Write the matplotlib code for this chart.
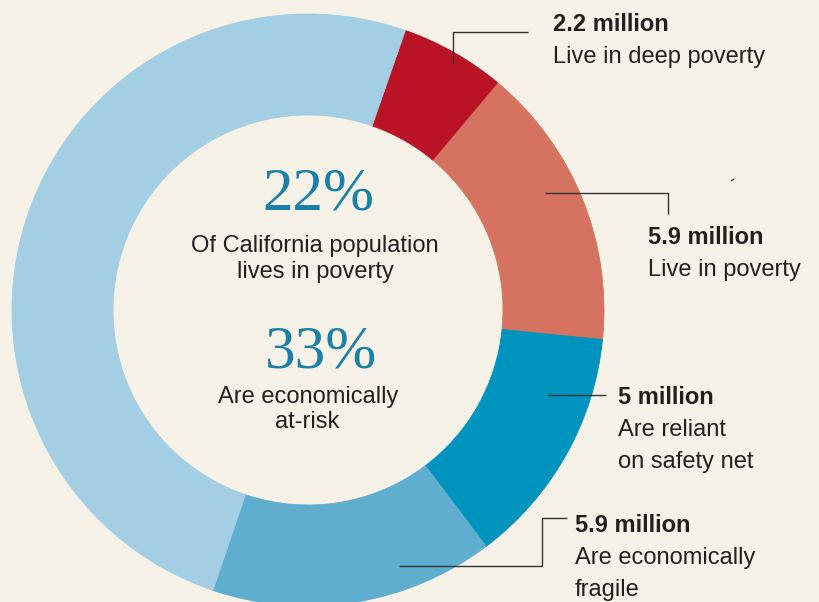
import matplotlib.pyplot as plt

# segments, clockwise from the top
labels = ["Live in deep poverty", "Live in poverty", "Are reliant\non safety net",
          "Are economically\nfragile", "Rest of population"]
values = [2.2, 5.9, 5.0, 5.9, 19.1]  # millions
amounts = ["2.2 million", "5.9 million", "5 million", "5.9 million", ""]
colors = ["#BA1325", "#D67360", "#0093BD", "#5FADCF", "#A3CEE3"]

pct_poverty = "22%"
pct_risk = "33%"

bg = "#F6F2E8"
ink = "#231F20"
pct_blue = "#1B80A8"

fig = plt.figure(figsize=(8.2, 6.02), dpi=100, facecolor=bg)
ax = fig.add_axes([0, 0, 1, 1])
ax.set_facecolor(bg)

# donut, in pixel coordinates (y grows downward)
wedges, _ = ax.pie(values, colors=colors, center=(308, 310), radius=296,
                   startangle=-70.8, counterclock=True,
                   wedgeprops=dict(width=101, linewidth=0.6))
for w in wedges:
    w.set_edgecolor(w.get_facecolor())

ax.set_xlim(0, 820)
ax.set_ylim(602, 0)
ax.set_aspect("auto")
ax.axis("off")

# leader lines
line_kw = dict(color="#333333", lw=1.0, solid_capstyle="butt")
ax.plot([453, 453, 528], [64, 32, 32], **line_kw)
ax.plot([545, 668, 668], [193, 193, 214], **line_kw)
ax.plot([731, 734], [181, 179], **line_kw)
ax.plot([548, 606], [395, 395], **line_kw)
ax.plot([399, 542, 542, 567], [566, 566, 518, 518], **line_kw)

# side labels
label_pos = [(553, 31), (648, 244), (618, 404), (575, 532)]
sans = "Liberation Sans"
for (x, y), amt, lab in zip(label_pos, amounts, labels):
    ax.text(x, y, amt, fontsize=17, fontweight="bold", color=ink,
            family=sans, va="baseline", ha="left")
    for i, line in enumerate(lab.split("\n")):
        ax.text(x, y + 32 * (i + 1), line, fontsize=17, color=ink,
                family=sans, va="baseline", ha="left")

# centre text
serif = "Liberation Serif"
ax.text(318, 210, pct_poverty, fontsize=44, color=pct_blue, family=serif,
        ha="center", va="baseline")
ax.text(315, 252, "Of California population", fontsize=17, color=ink,
        family=sans, ha="center", va="baseline")
ax.text(315, 278, "lives in poverty", fontsize=17, color=ink,
        family=sans, ha="center", va="baseline")
ax.text(321, 367, pct_risk, fontsize=44, color=pct_blue, family=serif,
        ha="center", va="baseline")
ax.text(308, 403, "Are economically", fontsize=17, color=ink,
        family=sans, ha="center", va="baseline")
ax.text(307, 428, "at-risk", fontsize=17, color=ink,
        family=sans, ha="center", va="baseline")

fig.savefig("out.png", dpi=100, facecolor=bg)
